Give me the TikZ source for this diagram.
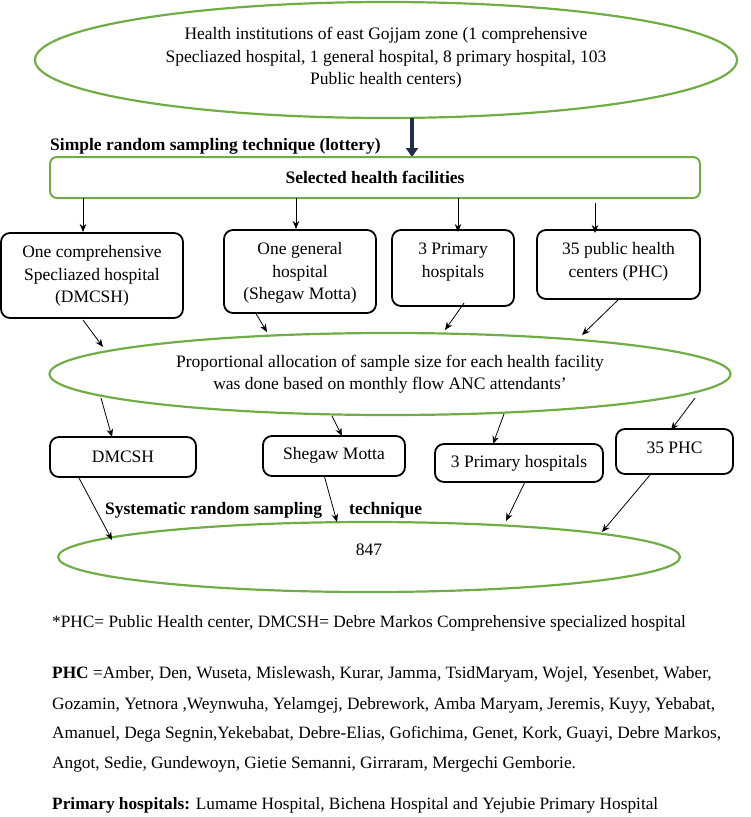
\documentclass[tikz,border=0pt]{standalone}
\usepackage{fontspec}
\setmainfont{Liberation Serif}
\usetikzlibrary{shapes.geometric,arrows.meta}
\definecolor{grn}{HTML}{70AD47}
\definecolor{navy}{HTML}{222E48}
\begin{document}
\begin{tikzpicture}[x=1pt,y=-1pt,
  greenell/.style={draw=grn,line width=2.2pt,ellipse,inner sep=0pt},
  greenbox/.style={draw=grn,line width=2pt,rounded corners=7pt},
  blackbox/.style={draw=black,line width=1.8pt,rounded corners=9pt},
  arr/.style={-{Stealth[length=8pt,width=6.5pt]},line width=0.8pt},
  txt/.style={font=\fontsize{17.5}{22.5}\selectfont,align=center,inner sep=0pt},
  btxt/.style={font=\fontsize{17.5}{22}\selectfont\bfseries,inner sep=0pt},
  note/.style={font=\fontsize{17.3}{22}\selectfont,inner sep=0pt,anchor=base west}
]
\useasboundingbox (0,0) rectangle (751,817);

% top ellipse
\node[greenell,minimum width=702pt,minimum height=116pt] (e1) at (386,60) {};
\node[txt] (t1) at (386,58) {Health institutions of east Gojjam zone (1 comprehensive\\Specliazed hospital, 1 general hospital, 8 primary hospital, 103\\Public health centers)};

\coordinate (d1) at (412,118);
\coordinate (d2) at (412,157);
\draw[navy,line width=4.5pt,-{Triangle[length=9pt,width=12pt]}] (d1) -- (d2);

\node[btxt,anchor=base west] (lab1) at (50,150) {Simple random sampling technique (lottery)};

\node[greenbox,minimum width=650pt,minimum height=41pt] (sel) at (375,177.5) {};
\node[btxt] (selt) at (375,177) {Selected health facilities};

% row 1
\node[blackbox,minimum width=182pt,minimum height=85pt] (b1) at (92,275.5) {};
\node[txt] (b1t) at (92,276) {One comprehensive\\Specliazed hospital\\(DMCSH)};
\node[blackbox,minimum width=152pt,minimum height=83pt] (b2) at (300,271.5) {};
\node[txt] (b2t) at (300,273) {One general\\hospital\\(Shegaw Motta)};
\node[blackbox,minimum width=122pt,minimum height=76pt] (b3) at (453,268) {};
\node[txt] (b3t) at (453,262) {3 Primary\\hospitals};
\node[blackbox,minimum width=163pt,minimum height=69pt] (b4) at (618.5,264.5) {};
\node[txt] (b4t) at (618.5,262) {35 public health\\centers (PHC)};

\coordinate (s1) at (83,198);  \coordinate (s1e) at (83,232);
\coordinate (s2) at (296,198); \coordinate (s2e) at (296,229);
\coordinate (s3) at (458,198); \coordinate (s3e) at (458,232);
\coordinate (s4) at (595,203); \coordinate (s4e) at (595,233);
\draw[arr] (s1) -- (s1e);
\draw[arr] (s2) -- (s2e);
\draw[arr] (s3) -- (s3e);
\draw[arr] (s4) -- (s4e);

% second ellipse
\node[greenell,minimum width=681pt,minimum height=82pt] (e2) at (390,374) {};
\node[txt] (e2t) at (390,374) {Proportional allocation of sample size for each health facility\\was done based on monthly flow ANC attendants’};

\coordinate (u1) at (83,320);  \coordinate (u1e) at (103,347);
\coordinate (u2) at (255,312); \coordinate (u2e) at (267,332);
\coordinate (u3) at (464,303); \coordinate (u3e) at (445,330);
\coordinate (u4) at (618,300); \coordinate (u4e) at (582,335);
\draw[arr] (u1) -- (u1e);
\draw[arr] (u2) -- (u2e);
\draw[arr] (u3) -- (u3e);
\draw[arr] (u4) -- (u4e);

% row 2
\node[blackbox,minimum width=146pt,minimum height=40pt] (r1) at (123,457) {};
\node[txt] (r1t) at (123,457) {DMCSH};
\node[blackbox,minimum width=142pt,minimum height=40pt] (r2) at (334,456) {};
\node[txt] (r2t) at (334,455) {Shegaw Motta};
\node[blackbox,minimum width=168pt,minimum height=38pt] (r3) at (519,463) {};
\node[txt] (r3t) at (519,463) {3 Primary hospitals};
\node[blackbox,minimum width=117pt,minimum height=45pt] (r4) at (674.5,451.5) {};
\node[txt] (r4t) at (674.5,448) {35 PHC};

\coordinate (v1) at (101,398); \coordinate (v1e) at (112,437);
\coordinate (v2) at (332,416); \coordinate (v2e) at (342,436);
\coordinate (v3) at (504,414); \coordinate (v3e) at (493,444);
\coordinate (v4) at (695,398); \coordinate (v4e) at (671,430);
\draw[arr] (v1) -- (v1e);
\draw[arr] (v2) -- (v2e);
\draw[arr] (v3) -- (v3e);
\draw[arr] (v4) -- (v4e);

\node[btxt,anchor=base west] (lab2) at (105,514) {Systematic random sampling};
\node[btxt,anchor=base west] (lab3) at (349,514) {technique};

% third ellipse
\node[greenell,minimum width=622pt,minimum height=70pt] (e3) at (369,557) {};
\node[txt] (e3t) at (369,550) {847};

\coordinate (w1) at (79,478);  \coordinate (w1e) at (112,540);
\coordinate (w2) at (324,475); \coordinate (w2e) at (337,522);
\coordinate (w3) at (525,482); \coordinate (w3e) at (506,521);
\coordinate (w4) at (650,475); \coordinate (w4e) at (602,532);
\draw[arr] (w1) -- (w1e);
\draw[arr] (w2) -- (w2e);
\draw[arr] (w3) -- (w3e);
\draw[arr] (w4) -- (w4e);

% notes
\node[note] (n1) at (52,627) {*PHC= Public Health center, DMCSH= Debre Markos Comprehensive specialized hospital};
\node[note] (n2) at (52,678) {\textbf{PHC} =Amber, Den, Wuseta, Mislewash, Kurar, Jamma, TsidMaryam, Wojel, Yesenbet, Waber,};
\node[note] (n3) at (52,709) {Gozamin, Yetnora ,Weynwuha, Yelamgej, Debrework, Amba Maryam, Jeremis, Kuyy, Yebabat,};
\node[note] (n4) at (52,738) {Amanuel, Dega Segnin,Yekebabat, Debre-Elias, Gofichima, Genet, Kork, Guayi, Debre Markos,};
\node[note] (n5) at (52,768) {Angot, Sedie, Gundewoyn, Gietie Semanni, Girraram, Mergechi Gemborie.};
\node[note] (n6) at (52,809) {\textbf{Primary hospitals:} Lumame Hospital, Bichena Hospital and Yejubie Primary Hospital};
\end{tikzpicture}
\end{document}
